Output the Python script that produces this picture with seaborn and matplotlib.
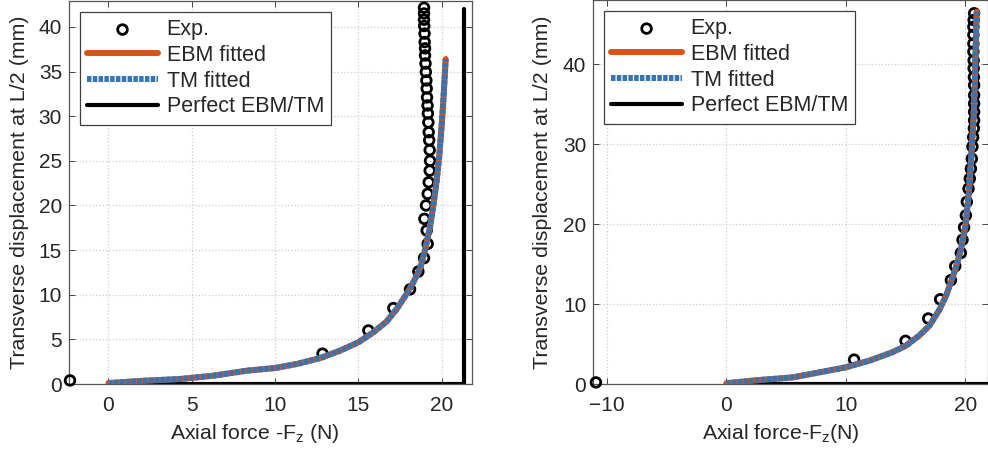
import matplotlib
matplotlib.use("Agg")
import matplotlib.pyplot as plt
import seaborn as sns
import numpy as np
import pandas as pd

# ---------------- data ----------------
# Left panel
exp_F_left = [-2.3, 12.85, 15.6, 17.1, 18.1, 18.6, 18.94, 19.16, 19.1, 18.96, 19.06, 19.16,
              19.22, 19.28, 19.3, 19.28, 19.25, 19.22, 19.2, 19.17, 19.15, 19.12, 19.1,
              19.08, 19.05, 19.03, 19.0, 19.0, 18.98, 18.97, 18.95, 18.94, 18.94, 18.94]
exp_y_left = [0.4, 3.4, 6.0, 8.5, 10.6, 12.6, 14.1, 15.7, 17.2, 18.5, 20.0, 21.3,
              22.6, 23.9, 25.0, 26.2, 27.3, 28.2, 29.3, 30.3, 31.2, 32.1, 33.1,
              34.0, 34.95, 35.9, 36.8, 37.6, 38.3, 39.25, 40.1, 40.8, 41.5, 42.15]

fit_F_left = [0, 2, 4.3, 6.3, 8.3, 10, 11.3, 12.7, 13.9, 15, 15.9, 16.7, 17.3, 17.9,
              18.3, 18.7, 19.0, 19.3, 19.5, 19.7, 19.85, 20.0, 20.1, 20.24]
fit_y_left = [0.1, 0.35, 0.56, 0.93, 1.49, 1.79, 2.24, 2.9, 3.73, 4.67, 5.79, 7.0,
              8.4, 10.1, 11.4, 12.9, 15.0, 17.6, 20.0, 22.8, 25.5, 29.0, 31.8, 36.4]
perfect_F_left = [0, 21.34, 21.34]
perfect_y_left = [0, 0, 42.05]

# Right panel
exp_F_right = [-10.9, 10.7, 15.0, 16.9, 17.9, 18.8, 19.16, 19.63, 19.77, 19.9, 20.05,
               20.13, 20.27, 20.38, 20.47, 20.55, 20.6, 20.66, 20.72, 20.74, 20.74,
               20.74, 20.74, 20.74, 20.72, 20.7, 20.7, 20.68, 20.68, 20.68, 20.68,
               20.7, 20.74]
exp_y_right = [0.2, 3.05, 5.4, 8.2, 10.6, 13.0, 14.75, 16.4, 18.05, 19.6, 21.1,
               22.8, 24.45, 25.7, 26.95, 28.2, 29.7, 30.9, 32.0, 33.0, 34.05,
               35.1, 36.15, 37.4, 38.4, 39.5, 40.5, 41.6, 42.6, 43.7, 44.7,
               45.55, 46.4]

fit_F_right = [0, 2.78, 5.57, 7.8, 10, 11.97, 13.9, 15.04, 16.15, 17.0, 17.8, 18.4,
               18.8, 19.2, 19.6, 20.0, 20.3, 20.5, 20.7, 20.8, 20.9, 20.95]
fit_y_right = [0.1, 0.5, 0.83, 1.46, 2.09, 2.92, 3.97, 4.8, 6.06, 7.3, 9.2, 11.07,
               12.74, 14.5, 16.6, 19.6, 23.8, 28.4, 33.4, 37.6, 43.9, 46.6]
perfect_F_right = [0, 22.4, 22.4]
perfect_y_right = [0, 0, 50]

legend_labels = ["Exp.", "EBM fitted", "TM fitted", "Perfect EBM/TM"]
xticks_left = [0, 5, 10, 15, 20]
yticks_left = [0, 5, 10, 15, 20, 25, 30, 35, 40]
xticks_right = [-10, 0, 10, 20]
yticks_right = [0, 10, 20, 30, 40]

# ---------------- style ----------------
sns.set_theme(style="whitegrid")
plt.rcParams['font.family'] = ['Liberation Sans', 'DejaVu Sans']
plt.rcParams['mathtext.fontset'] = 'custom'
plt.rcParams['mathtext.rm'] = 'Liberation Sans'
plt.rcParams['mathtext.it'] = 'Liberation Sans'

ORANGE = "#D95319"
BLUE = "#3473B4"

fig = plt.figure(figsize=(9.88, 4.49), dpi=100)
ax1 = fig.add_axes([69/988, 1-384/449, (471.7-69)/988, (384-1)/449])
ax2 = fig.add_axes([593.3/988, 1-384/449, (987.5-593.3)/988, 384/449])


def draw(ax, eF, ey, fF, fy, pF, py, xlim, ylim, xticks, yticks, xlabel, xl_pos, yl_pos):
    ax.set_facecolor("white")
    sns.scatterplot(x=eF, y=ey, ax=ax, marker='o', s=48, facecolor='none',
                    edgecolor='black', linewidth=2.0, clip_on=False, zorder=3,
                    label=legend_labels[0])
    sns.lineplot(x=pF, y=py, ax=ax, sort=False, estimator=None, color='black',
                 linewidth=3.0, zorder=2.5, label=legend_labels[3])
    sns.lineplot(x=fF, y=fy, ax=ax, sort=False, estimator=None, color=ORANGE,
                 linewidth=4.3, zorder=4, label=legend_labels[1])
    sns.lineplot(x=fF, y=fy, ax=ax, sort=False, estimator=None, color=BLUE,
                 linewidth=4.3, zorder=5, label=legend_labels[2])
    lines = ax.get_lines()
    lines[-1].set_linestyle((0, (0.75, 0.22)))
    lines[-1].set_dash_capstyle('butt')
    for ln in lines:
        ln.set_solid_joinstyle('round')
    ax.set_xlim(*xlim)
    ax.set_ylim(*ylim)
    ax.set_xticks(xticks)
    ax.set_yticks(yticks)
    ax.grid(True, color='#cfcfcf', linestyle=':', linewidth=0.9)
    ax.tick_params(axis='both', direction='in', length=4, width=0.7, color='#444444',
                   labelsize=15, bottom=True, left=True, top=True, right=True)
    ax.tick_params(axis='x', pad=8.5)
    ax.tick_params(axis='y', pad=5)
    for s in ax.spines.values():
        s.set_color('#555555')
        s.set_linewidth(0.9)
        s.set_visible(True)
    ax.set_xlabel(xlabel, fontsize=15.3)
    ax.set_ylabel("Transverse displacement at L/2 (mm)", fontsize=15.4)
    ax.xaxis.set_label_coords(xl_pos, -0.099)
    ax.yaxis.set_label_coords(yl_pos, 0.5)
    handles, labels = ax.get_legend_handles_labels()
    order = [labels.index(l) for l in legend_labels]
    leg = ax.legend([handles[i] for i in order], [labels[i] for i in order],
                    loc='upper left', bbox_to_anchor=(0.027, 0.971), borderaxespad=0,
                    fontsize=15.5, handlelength=3.3, handletextpad=0.4,
                    labelspacing=0.22, borderpad=0.33, frameon=True, fancybox=False,
                    framealpha=1, edgecolor='#404040', scatterpoints=1)
    leg.get_frame().set_linewidth(0.9)
    leg.set_zorder(10)
    return ax


draw(ax1, exp_F_left, exp_y_left, fit_F_left, fit_y_left, perfect_F_left, perfect_y_left,
     (-2.36, 21.8), (0, 42.9), xticks_left, yticks_left, "Axial force -F$_{z}$ (N)",
     0.46, -0.100)
draw(ax2, exp_F_right, exp_y_right, fit_F_right, fit_y_right, perfect_F_right, perfect_y_right,
     (-11.12, 21.86), (0, 48.06), xticks_right, yticks_right, "Axial force-F$_{z}$(N)",
     0.4755, -0.1046)

fig.savefig("out.png", dpi=100)
